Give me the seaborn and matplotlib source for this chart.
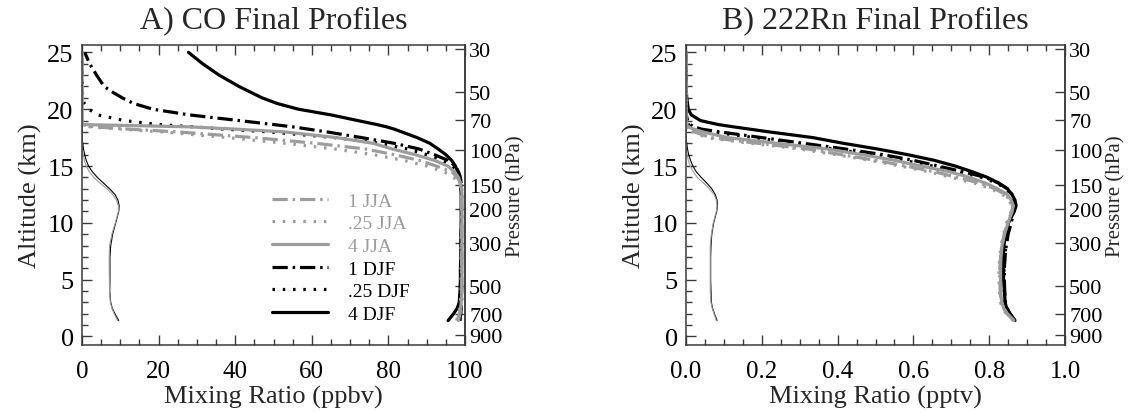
import matplotlib
matplotlib.use("Agg")
import numpy as np
import matplotlib.pyplot as plt
from matplotlib.ticker import MultipleLocator, NullLocator, FormatStrFormatter
import seaborn as sns

# Shared altitude grid (km) for every profile
altitude_km = [1.4, 2, 2.5, 3, 4, 5, 6, 7, 8, 9, 10, 11, 11.5, 12, 12.5, 13, 13.5,
               14, 14.5, 15, 15.5, 16, 16.5, 17, 17.5, 18, 18.25, 18.45, 18.65,
               19, 19.5, 20, 20.5, 21, 21.5, 22, 23, 24, 25]

# CO final profiles (ppbv)
co_djf_4 = [95.6, 97.0, 98.0, 98.5, 98.7, 98.8, 98.8, 98.9, 98.9, 98.9, 99.0, 99.0, 99.0,
            99.0, 99.0, 98.9, 98.8, 98.5, 98.1, 97.5, 96.5, 95.0, 93.0, 90.8, 87.5, 83.5,
            81.5, 79.5, 77.0, 72.0, 65.0, 56.5, 51.0, 47.0, 44.0, 41.0, 35.8, 31.5, 27.8]
co_djf_1 = [98.6, 98.9, 99.0, 99.1, 99.1, 99.1, 99.1, 99.1, 99.1, 99.1, 99.1, 99.1, 99.1,
            99.1, 99.1, 99.1, 99.0, 98.8, 98.3, 97.5, 95.5, 92.0, 88.0, 81.5, 73.0, 64.0,
            59.0, 55.0, 50.0, 41.0, 28.0, 18.5, 13.5, 10.5, 8.0, 5.8, 3.8, 2.0, 0.7]
co_djf_025 = [98.7, 98.9, 99.0, 99.1, 99.1, 99.1, 99.1, 99.1, 99.1, 99.1, 99.1, 99.1, 99.1,
              99.1, 99.1, 99.1, 99.0, 98.8, 98.0, 96.5, 94.0, 90.0, 85.0, 78.0, 66.0, 49.0,
              37.0, 29.0, 20.0, 11.0, 4.0, 1.8, 0.6, 0.2, 0.1, 0.1, 0.1, 0.1, 0.1]
co_jja_4 = [98.3, 98.7, 98.9, 99.0, 99.2, 99.2, 99.2, 99.2, 99.2, 99.2, 99.2, 99.2, 99.2,
            99.2, 99.2, 99.1, 98.8, 98.3, 97.3, 95.5, 92.0, 87.0, 81.0, 76.0, 66.5, 53.0,
            40.0, 28.0, 0.0, 0.0, 0.0, 0.0, 0.0, 0.0, 0.0, 0.0, 0.0, 0.0, 0.0]
co_jja_1 = [98.0, 98.5, 98.8, 98.9, 99.1, 99.1, 99.1, 99.1, 99.1, 99.1, 99.1, 99.1, 99.1,
            99.1, 99.1, 99.1, 98.8, 98.0, 96.5, 92.5, 88.0, 81.5, 74.0, 61.0, 45.0, 25.0,
            12.0, 3.0, 0.0, 0.0, 0.0, 0.0, 0.0, 0.0, 0.0, 0.0, 0.0, 0.0, 0.0]
co_jja_025 = [97.8, 98.3, 98.6, 98.8, 99.0, 99.0, 99.0, 99.0, 99.0, 99.0, 99.0, 99.0, 99.0,
              99.0, 99.0, 99.0, 98.5, 97.0, 94.5, 90.0, 84.0, 76.0, 66.0, 53.0, 38.0, 21.0,
              10.0, 2.0, 0.0, 0.0, 0.0, 0.0, 0.0, 0.0, 0.0, 0.0, 0.0, 0.0, 0.0]
co_shape_djf = [9.6, 8.6, 7.9, 7.5, 7.25, 7.3, 7.3, 7.3, 7.5, 8.0, 8.8, 9.6, 9.7, 9.4, 8.6,
                7.2, 5.6, 4.0, 2.7, 1.7, 1.1, 0.7, 0.4, 0.2, 0.0, 0.0, 0.0, 0.0, 0.0, 0.0,
                0.0, 0.0, 0.0, 0.0, 0.0, 0.0, 0.0, 0.0, 0.0]
co_shape_jja = [9.3, 8.4, 7.8, 7.4, 7.2, 7.15, 7.1, 7.1, 7.2, 7.8, 8.7, 9.5, 9.5, 9.0, 8.0,
                6.5, 4.7, 3.1, 1.9, 1.1, 0.6, 0.3, 0.1, 0.0, 0.0, 0.0, 0.0, 0.0, 0.0, 0.0,
                0.0, 0.0, 0.0, 0.0, 0.0, 0.0, 0.0, 0.0, 0.0]

# 222Rn final profiles (pptv)
rn_djf_4 = [0.868, 0.855, 0.846, 0.842, 0.840, 0.838, 0.837, 0.837, 0.839, 0.843, 0.851,
            0.866, 0.871, 0.868, 0.860, 0.848, 0.825, 0.795, 0.755, 0.710, 0.655, 0.585,
            0.505, 0.415, 0.335, 0.220, 0.167, 0.125, 0.085, 0.038, 0.014, 0.006, 0.004,
            0.002, 0.001, 0.001, 0.0, 0.0, 0.0]
rn_djf_1 = [0.868, 0.855, 0.847, 0.843, 0.841, 0.840, 0.840, 0.842, 0.845, 0.850, 0.858,
            0.865, 0.868, 0.866, 0.860, 0.848, 0.825, 0.790, 0.730, 0.665, 0.600, 0.520,
            0.420, 0.310, 0.200, 0.090, 0.040, 0.022, 0.010, 0.004, 0.001, 0.0, 0.0, 0.0,
            0.0, 0.0, 0.0, 0.0, 0.0]
rn_djf_025 = [0.867, 0.854, 0.846, 0.842, 0.840, 0.839, 0.839, 0.841, 0.844, 0.849, 0.857,
              0.864, 0.868, 0.866, 0.858, 0.845, 0.820, 0.780, 0.720, 0.650, 0.575, 0.490,
              0.390, 0.290, 0.180, 0.070, 0.030, 0.015, 0.006, 0.002, 0.0, 0.0, 0.0, 0.0,
              0.0, 0.0, 0.0, 0.0, 0.0]
rn_jja_4 = [0.865, 0.848, 0.838, 0.833, 0.830, 0.830, 0.830, 0.831, 0.834, 0.840, 0.850,
            0.860, 0.864, 0.858, 0.848, 0.822, 0.790, 0.747, 0.695, 0.620, 0.550, 0.465,
            0.372, 0.240, 0.110, 0.045, 0.020, 0.006, 0.001, 0.0, 0.0, 0.0, 0.0, 0.0, 0.0,
            0.0, 0.0, 0.0, 0.0]
rn_jja_1 = [0.866, 0.847, 0.837, 0.832, 0.829, 0.828, 0.828, 0.830, 0.833, 0.840, 0.848,
            0.860, 0.862, 0.856, 0.842, 0.815, 0.775, 0.715, 0.655, 0.580, 0.500, 0.410,
            0.320, 0.190, 0.065, 0.022, 0.008, 0.002, 0.0, 0.0, 0.0, 0.0, 0.0, 0.0, 0.0,
            0.0, 0.0, 0.0, 0.0]
rn_jja_025 = [0.864, 0.845, 0.835, 0.830, 0.827, 0.826, 0.826, 0.828, 0.831, 0.838, 0.846,
              0.858, 0.860, 0.852, 0.835, 0.805, 0.760, 0.700, 0.640, 0.565, 0.485, 0.395,
              0.300, 0.170, 0.055, 0.018, 0.006, 0.001, 0.0, 0.0, 0.0, 0.0, 0.0, 0.0, 0.0,
              0.0, 0.0, 0.0, 0.0]
rn_shape_djf = [0.082, 0.075, 0.070, 0.067, 0.066, 0.065, 0.065, 0.065, 0.066, 0.068, 0.073,
                0.081, 0.083, 0.082, 0.077, 0.068, 0.055, 0.040, 0.027, 0.018, 0.012, 0.007,
                0.004, 0.002, 0.0, 0.0, 0.0, 0.0, 0.0, 0.0, 0.0, 0.0, 0.0, 0.0, 0.0, 0.0,
                0.0, 0.0, 0.0]
rn_shape_jja = [0.080, 0.074, 0.069, 0.066, 0.064, 0.064, 0.064, 0.064, 0.064, 0.067, 0.072,
                0.080, 0.082, 0.080, 0.074, 0.062, 0.046, 0.030, 0.019, 0.011, 0.006, 0.003,
                0.001, 0.0, 0.0, 0.0, 0.0, 0.0, 0.0, 0.0, 0.0, 0.0, 0.0, 0.0, 0.0, 0.0,
                0.0, 0.0, 0.0]

pressure_ticks = [30, 50, 70, 100, 150, 200, 300, 500, 700, 900]
legend_order = ["1 JJA", ".25 JJA", "4 JJA", "1 DJF", ".25 DJF", "4 DJF"]

sns.set_theme(style="ticks")
plt.rcParams["font.family"] = ["Liberation Serif", "DejaVu Serif"]
plt.rcParams["lines.scale_dashes"] = False
plt.rcParams["axes.edgecolor"] = "#3a3a3a"
plt.rcParams["xtick.color"] = "#3a3a3a"
plt.rcParams["ytick.color"] = "#3a3a3a"
plt.rcParams["xtick.labelcolor"] = "black"
plt.rcParams["ytick.labelcolor"] = "black"

GRAY = "#9c9c9c"
BLACK = "black"
THICK = 2.3
THIN = 0.8
STYLE = {"1": (0, (11, 3.5, 1.8, 3.5)), ".25": (0, (1.8, 5.6)), "4": "-"}

SCALE_H = 7.41   # km
P_REF = 911.0    # hPa


def z_to_p(z):
    return P_REF * np.exp(-np.asarray(z, dtype=float) / SCALE_H)


def p_to_z(p):
    p = np.clip(np.asarray(p, dtype=float), 1e-6, None)
    return SCALE_H * np.log(P_REF / p)


def profile(ax, values, color, style, lw, label=None):
    kws = dict(x=values, y=altitude_km, ax=ax, sort=False, estimator=None,
               color=color, linestyle=style, linewidth=lw)
    if label is not None:
        kws["label"] = label
    sns.lineplot(**kws)


fig = plt.figure(figsize=(11.28, 4.14), dpi=100)
axA = fig.add_axes([82 / 1128, 1 - 346 / 414, 383 / 1128, 300 / 414])
axB = fig.add_axes([686 / 1128, 1 - 346 / 414, 379 / 1128, 300 / 414])

# Panel A: CO
profile(axA, co_shape_djf, BLACK, "-", THIN)
profile(axA, co_shape_jja, GRAY, "-", THIN)
profile(axA, co_djf_1, BLACK, STYLE["1"], THICK, "1 DJF")
profile(axA, co_djf_025, BLACK, STYLE[".25"], THICK, ".25 DJF")
profile(axA, co_djf_4, BLACK, STYLE["4"], THICK, "4 DJF")
profile(axA, co_jja_1, GRAY, STYLE["1"], THICK, "1 JJA")
profile(axA, co_jja_025, GRAY, STYLE[".25"], THICK, ".25 JJA")
profile(axA, co_jja_4, GRAY, STYLE["4"], THICK, "4 JJA")

# Panel B: 222Rn
profile(axB, rn_shape_djf, BLACK, "-", THIN)
profile(axB, rn_shape_jja, GRAY, "-", THIN)
profile(axB, rn_djf_1, BLACK, STYLE["1"], THICK)
profile(axB, rn_djf_025, BLACK, STYLE[".25"], THICK)
profile(axB, rn_djf_4, BLACK, STYLE["4"], THICK)
profile(axB, rn_jja_1, GRAY, STYLE["1"], THICK)
profile(axB, rn_jja_025, GRAY, STYLE[".25"], THICK)
profile(axB, rn_jja_4, GRAY, STYLE["4"], THICK)

panels = [
    (axA, (0, 100), 20, 5, "%d", "Mixing Ratio (ppbv)", "A) CO Final Profiles"),
    (axB, (0, 1.0), 0.2, 0.05, "%.1f", "Mixing Ratio (pptv)", "B) 222Rn Final Profiles"),
]
for ax, xlim, xmaj, xmin, fmt, xlabel, title in panels:
    ax.set_xlim(*xlim)
    ax.set_ylim(-0.75, 25.65)
    ax.xaxis.set_major_locator(MultipleLocator(xmaj))
    ax.xaxis.set_minor_locator(MultipleLocator(xmin))
    ax.xaxis.set_major_formatter(FormatStrFormatter(fmt))
    ax.yaxis.set_major_locator(MultipleLocator(5))
    ax.yaxis.set_minor_locator(MultipleLocator(1))
    ax.tick_params(which="both", direction="in", top=True, right=False, width=1)
    ax.tick_params(which="major", length=7)
    ax.tick_params(which="minor", length=4)
    ax.tick_params(axis="x", which="major", pad=11, labelsize=18)
    ax.tick_params(axis="y", which="major", pad=6, labelsize=19)
    ax.set_xlabel(xlabel, fontsize=19, labelpad=2)
    ax.set_ylabel("Altitude (km)", fontsize=19, labelpad=4)
    ax.set_title(title, fontsize=23, pad=13)
    for sp in ax.spines.values():
        sp.set_linewidth(1.1)
        sp.set_visible(True)

    sec = ax.secondary_yaxis("right", functions=(z_to_p, p_to_z))
    sec.set_yticks(pressure_ticks, labels=[str(p) for p in pressure_ticks])
    sec.yaxis.set_minor_locator(NullLocator())
    sec.tick_params(direction="in", length=7, width=1, labelsize=16, pad=3)
    sec.spines["right"].set_linewidth(1.1)
    sec.set_ylabel("Pressure (hPa)", fontsize=15, labelpad=3)

# Legend for panel A
handles, labels = axA.get_legend_handles_labels()
lookup = dict(zip(labels, handles))
axA.legend([lookup[k] for k in legend_order], legend_order,
           loc="upper left", bbox_to_anchor=(0.496, 0.51), frameon=False,
           fontsize=14, handlelength=2.9, handletextpad=1.0, labelspacing=0.26,
           borderpad=0, borderaxespad=0,
           labelcolor=[GRAY] * 3 + [BLACK] * 3)
if axB.get_legend() is not None:
    axB.get_legend().remove()

fig.savefig("out.png", dpi=100)
